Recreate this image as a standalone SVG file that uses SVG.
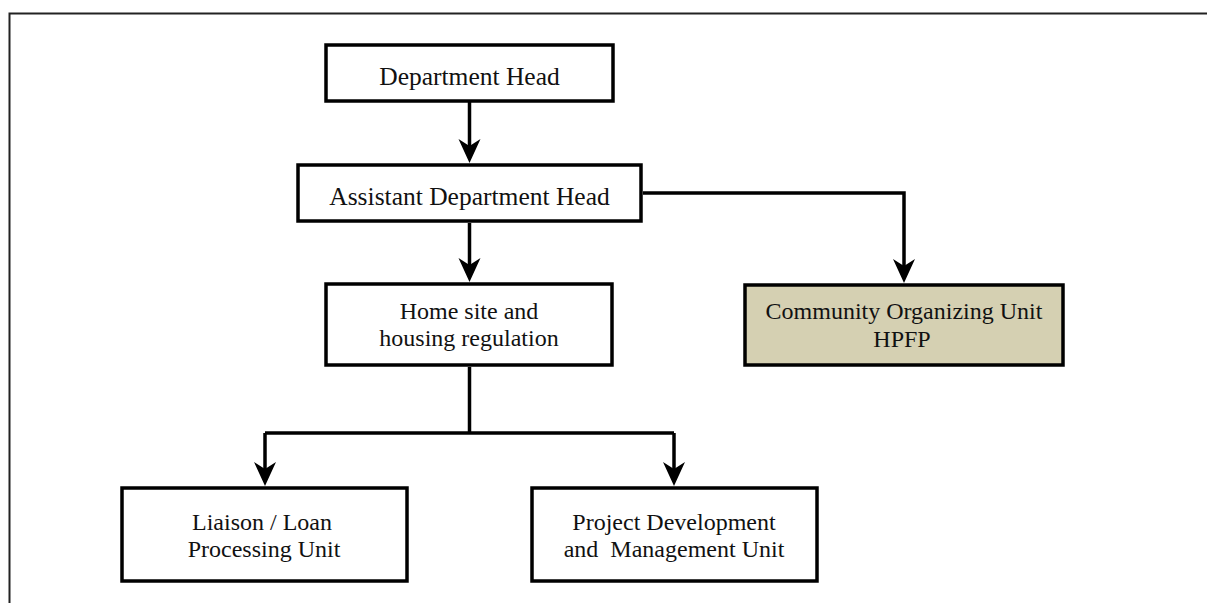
<svg xmlns="http://www.w3.org/2000/svg" width="1207" height="603" viewBox="0 0 1207 603">
  <style>
    .box { fill: #ffffff; stroke: #000000; stroke-width: 3.5; }
    .box.tan { fill: #d5d0b2; }
    .lbl { font-family: "Liberation Serif", "DejaVu Serif", serif; font-size: 25.5px; fill: #111111; text-anchor: middle; }
    .lbl.two { font-size: 24px; }
    .wire { fill: none; stroke: #000000; stroke-width: 3.5; }
    .frame { fill: none; stroke: #222222; stroke-width: 2; }
  </style>
  <defs>
    <marker id="head" viewBox="-17 -12 26 24" refX="0" refY="0" markerWidth="26" markerHeight="24" markerUnits="userSpaceOnUse" orient="auto">
      <path d="M8,0 L-16,-11 L-9,0 L-16,11 Z" fill="#000000"/>
    </marker>
  </defs>

  <rect width="1207" height="603" fill="#ffffff"/>
  <path class="frame" d="M9.5 603 V13.5 H1207"/>

  <g id="connectors">
    <path class="wire" d="M469.5 102 V155" marker-end="url(#head)"/>
    <path class="wire" d="M469.5 223 V274" marker-end="url(#head)"/>
    <path class="wire" d="M643 193 H904 V275" marker-end="url(#head)"/>
    <path class="wire" d="M469.5 367 V433"/>
    <path class="wire" d="M265 433 H674"/>
    <path class="wire" d="M265 433 V478" marker-end="url(#head)"/>
    <path class="wire" d="M674 433 V478" marker-end="url(#head)"/>
  </g>

  <g id="department-head">
    <rect class="box" x="326" y="45" width="287" height="56"/>
    <text class="lbl" x="469.5" y="85">Department Head</text>
  </g>

  <g id="assistant-department-head">
    <rect class="box" x="298" y="165" width="343" height="56"/>
    <text class="lbl" x="469.5" y="205">Assistant Department Head</text>
  </g>

  <g id="home-site-housing-regulation">
    <rect class="box" x="326" y="284" width="286" height="81"/>
    <text class="lbl two" x="469" y="318.5">Home site and</text>
    <text class="lbl two" x="469" y="346">housing regulation</text>
  </g>

  <g id="community-organizing-unit">
    <rect class="box tan" x="745" y="285" width="318" height="80"/>
    <text class="lbl two" x="904" y="319">Community Organizing Unit</text>
    <text class="lbl two" x="902" y="346.5">HPFP</text>
  </g>

  <g id="liaison-loan-processing">
    <rect class="box" x="122" y="488" width="285" height="93"/>
    <text class="lbl two" x="262" y="529.5">Liaison / Loan</text>
    <text class="lbl two" x="264" y="557">Processing Unit</text>
  </g>

  <g id="project-development-management">
    <rect class="box" x="532" y="488" width="285" height="93"/>
    <text class="lbl two" x="674" y="529.5">Project Development</text>
    <text class="lbl two" x="674" y="557" xml:space="preserve">and  Management Unit</text>
  </g>
</svg>
